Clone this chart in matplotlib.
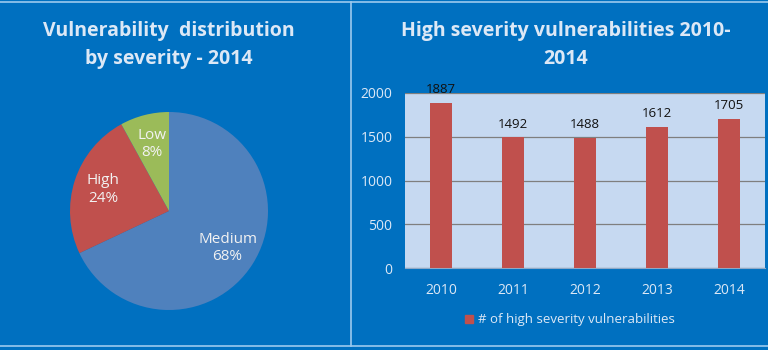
import matplotlib
matplotlib.use("Agg")
import matplotlib.pyplot as plt
from matplotlib.lines import Line2D
from matplotlib.patches import Patch

# Data
severity_labels = ["Medium", "High", "Low"]
severity_pct = [68, 24, 8]
severity_colors = ["#4F81BD", "#C0504D", "#9BBB59"]

years = ["2010", "2011", "2012", "2013", "2014"]
high_counts = [1887, 1492, 1488, 1612, 1705]
yticks = [0, 500, 1000, 1500, 2000]

BG = "#0070C0"
LIGHT = "#DCE8F6"
FONT = ["Open Sans", "DejaVu Sans"]
plt.rcParams["font.family"] = FONT

fig = plt.figure(figsize=(7.68, 3.5), dpi=100)
fig.patch.set_facecolor(BG)

# Borders / divider
W, H = 768.0, 350.0
fig.add_artist(Line2D([0, 1], [1 - 2 / H, 1 - 2 / H], color="#9CC9EE", lw=1.2))
fig.add_artist(Line2D([0, 1], [1 - 346 / H, 1 - 346 / H], color="#9CC9EE", lw=1.2))
fig.add_artist(Line2D([351 / W, 351 / W], [1 - 2 / H, 1 - 346 / H], color="#9CC9EE", lw=1.2))

# Titles
fig.text(169 / W, 1 - 45 / H, "Vulnerability  distribution\nby severity - 2014",
         ha="center", va="center", fontsize=14, fontweight="bold", color=LIGHT,
         linespacing=1.5)
fig.text(566 / W, 1 - 45 / H, "High severity vulnerabilities 2010-\n2014",
         ha="center", va="center", fontsize=14, fontweight="bold", color=LIGHT,
         linespacing=1.5)

# Pie
r = 99
cx, cy = 169, 211
axp = fig.add_axes([(cx - r) / W, 1 - (cy + r) / H, 2 * r / W, 2 * r / H])
lab_iter = iter(severity_labels)


def fmt(p):
    return f"{next(lab_iter)}\n{p:.0f}%"


wedges, texts, autotexts = axp.pie(
    severity_pct, colors=severity_colors, startangle=90, counterclock=False,
    autopct=fmt, pctdistance=0.7, radius=1,
    wedgeprops=dict(linewidth=0))
for t in autotexts:
    t.set_color("#F2F2F2")
    t.set_fontsize(11)
axp.set_xlim(-1, 1)
axp.set_ylim(-1, 1)
axp.set_aspect("equal")
axp.axis("off")

# Bars
axb = fig.add_axes([405 / W, 1 - 268 / H, 360 / W, 175 / H])
axb.set_facecolor("#C6D9F1")
x = list(range(len(years)))
bars = axb.bar(x, high_counts, width=0.3, color="#C0504D", zorder=3,
               label="# of high severity vulnerabilities")
axb.set_xlim(-0.5, len(years) - 0.5)
axb.set_ylim(0, 2000)
axb.set_yticks(yticks)
axb.set_xticks(x)
axb.set_xticklabels(years)
axb.yaxis.grid(True, color="#7F7F7F", lw=0.9, zorder=0)
axb.tick_params(axis="both", length=0, colors=LIGHT, labelsize=10)
axb.tick_params(axis="y", pad=9)
axb.tick_params(axis="x", pad=11)
for s in ["top", "right", "left"]:
    axb.spines[s].set_visible(False)
axb.spines["bottom"].set_color("#8EA9C8")
for xi, v in zip(x, high_counts):
    axb.annotate(str(v), (xi, v), xytext=(0, 5), textcoords="offset points",
                 ha="center", va="bottom", fontsize=9.5, color="#111111")

leg = fig.legend(handles=[Patch(color="#C0504D", label="# of high severity vulnerabilities")],
                 loc="center", bbox_to_anchor=(570 / W, 1 - 320 / H), frameon=False,
                 fontsize=9.5, handlelength=0.6, handleheight=0.6, handletextpad=0.4)
for t in leg.get_texts():
    t.set_color(LIGHT)

fig.savefig("out.png", dpi=100, facecolor=BG)
